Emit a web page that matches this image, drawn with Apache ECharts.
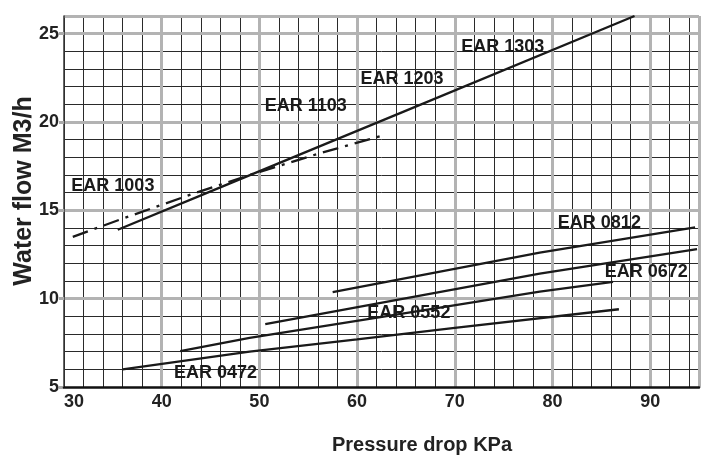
<!DOCTYPE html>
<html><head><meta charset="utf-8">
<script src="https://cdn.jsdelivr.net/npm/echarts@6/dist/echarts.min.js"></script>
<style>html,body{margin:0;padding:0;background:#fff}#c{width:709px;height:455px}</style>
</head><body><div id="c"></div>
<script>
// ---- data (pressure drop KPa, water flow M3/h) ----
const ear1003 = [[30.9,13.5],[36.1,14.55],[43,15.9],[49,17.0],[56,18.2],[62.7,19.25]];
const ear1103to1303 = [[35.5,13.9],[46,16.3],[64.4,20.5],[88.4,26]];
const ear0812 = [[57.5,10.37],[78.7,12.6],[94.6,14.04]];
const ear0672 = [[50.6,8.56],[78.7,11.42],[94.8,12.8]];
const ear0552 = [[41.9,7.03],[49,7.78],[64,9.1],[78.7,10.4],[86.2,10.95]];
const ear0472 = [[36,6.0],[49,7.0],[60,7.7],[70,8.35],[86.8,9.4]];
const labelNames = ['EAR 1003','EAR 1103','EAR 1203','EAR 1303','EAR 0812','EAR 0672','EAR 0552','EAR 0472'];
const xTicks = [30,40,50,60,70,80,90];
const yTicks = [5,10,15,20,25];
const xTitle = 'Pressure drop KPa';
const yTitle = 'Water flow M3/h';

// ---- layout ----
const labelAnchors = [[30.7,16.4],[50.5,20.9],[60.3,22.45],[70.6,24.27],[80.5,14.3],[85.3,11.5],[61.0,9.18],[41.2,5.8]];
const FONT = '"Liberation Sans", Arial, sans-serif';
const TXT = '#222';
const LINE = '#1a1a1a';

const chart = echarts.init(document.getElementById('c'), null, {renderer:'canvas'});
const lineSeries = (name, data, type) => ({
  name, type:'line', data, symbol:'none', z:10, silent:true,
  xAxisIndex:1, yAxisIndex:1,
  lineStyle:{color:LINE, width:2.3, type: type || 'solid'}
});
chart.setOption({
  animation:false,
  backgroundColor:'#fff',
  grid:{left:64, right:10, top:16, bottom:68},
  xAxis:[
    {type:'value', min:30, max:95, interval:2, z:1, position:'bottom',
     axisLine:{show:false}, axisTick:{show:false}, axisLabel:{show:false},
     splitLine:{show:true, lineStyle:{color:'#2a2a2a', width:1}}},
    {type:'value', min:30, max:95, interval:10, z:3, position:'bottom', offset:0,
     axisLine:{show:true, onZero:false, lineStyle:{color:'#111', width:2.5}},
     axisTick:{show:false},
     axisLabel:{show:true, fontSize:18, fontWeight:'bold', color:TXT, fontFamily:FONT, margin:6,
       showMaxLabel:false, alignMinLabel:'left',
       formatter:v => xTicks.includes(v) ? String(v) : ''},
     splitLine:{show:true, showMinLine:false, lineStyle:{color:'#b3b3b3', width:3}}}
  ],
  yAxis:[
    {type:'value', min:5, max:26, interval:1, z:1, position:'left',
     axisLine:{show:false}, axisTick:{show:false}, axisLabel:{show:false},
     splitLine:{show:true, lineStyle:{color:'#2a2a2a', width:1}}},
    {type:'value', min:5, max:26, interval:5, z:2, position:'left', offset:0,
     axisLine:{show:true, onZero:false, lineStyle:{color:'#333', width:1.5}},
     axisTick:{show:true, length:5, lineStyle:{color:'#aaa', width:3}},
     axisLabel:{show:true, fontSize:18, fontWeight:'bold', color:TXT, fontFamily:FONT, margin:5,
       showMaxLabel:false,
       formatter:v => yTicks.includes(v) ? String(v) : ''},
     splitLine:{show:true, showMinLine:false, lineStyle:{color:'#b3b3b3', width:3}}}
  ],
  series:[
    lineSeries('EAR 1003', ear1003, [16,7,3,7]),
    lineSeries('EAR 1103-1303', ear1103to1303),
    lineSeries('EAR 0812', ear0812),
    lineSeries('EAR 0672', ear0672),
    lineSeries('EAR 0552', ear0552),
    lineSeries('EAR 0472', ear0472),
    {type:'scatter', xAxisIndex:1, yAxisIndex:1, z:12, silent:true,
     symbol:'circle', symbolSize:1, itemStyle:{color:'#fff', opacity:1},
     data: labelAnchors.map((p,i) => ({value:p, name:labelNames[i]})),
     label:{show:true, position:'right', distance:0, formatter:'{b}', opacity:1,
       textBorderWidth:0, fontSize:18, fontWeight:'bold', color:'#1a1a1a', fontFamily:FONT}}
  ],
  graphic:[
    {type:'text', x:24, y:191, rotation:Math.PI/2, z:20,
     style:{text:yTitle, font:'bold 25px ' + FONT, fill:TXT, textAlign:'center', textVerticalAlign:'middle'}},
    {type:'text', x:422, y:445, z:20,
     style:{text:xTitle, font:'bold 20px ' + FONT, fill:TXT, textAlign:'center', textVerticalAlign:'middle'}}
  ]
});
</script></body></html>
